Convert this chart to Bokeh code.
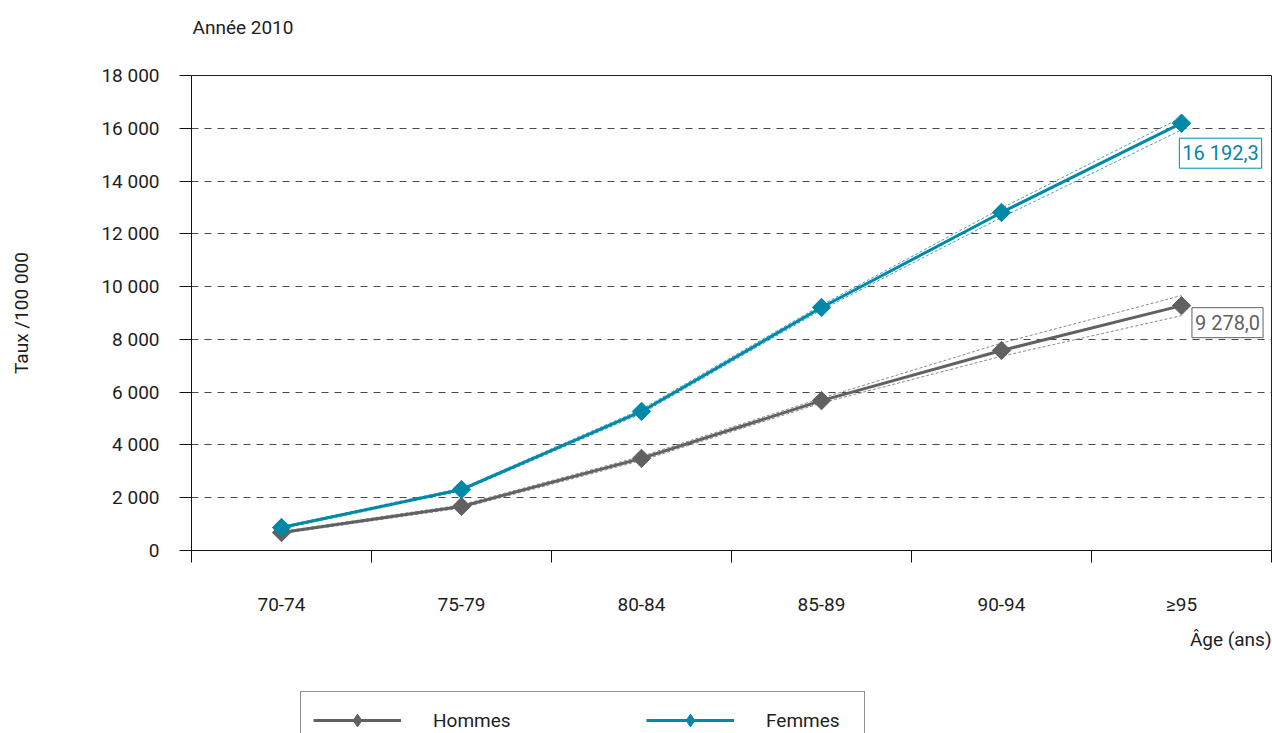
import math

from bokeh.plotting import figure
from bokeh.layouts import column
from bokeh.models import (Range1d, FixedTicker, CustomJSTickFormatter, Label,
                          Legend, LegendItem, Title)
from bokeh.embed import file_html
from bokeh.resources import INLINE

# Age groups and incidence rates per 100 000 (year 2010)
categories = ["70-74", "75-79", "80-84", "85-89", "90-94", "≥95"]
hommes = [680, 1670, 3490, 5680, 7580, 9278.0]
hommes_low = [640, 1610, 3410, 5590, 7360, 8900]
hommes_high = [720, 1730, 3570, 5770, 7860, 9660]
femmes = [870, 2310, 5270, 9210, 12810, 16192.3]
femmes_low = [830, 2260, 5190, 9120, 12620, 15940]
femmes_high = [910, 2360, 5350, 9300, 12970, 16410]
y_ticks = list(range(0, 18001, 2000))

FONT = "Roboto"
FS = "19px"
TEAL = "#0088a8"
TEAL_LIGHT = "#3aa6c2"
GREY = "#616161"
GREY_LIGHT = "#8a8a8a"
TEXT = "#1e1e1e"

xs = list(range(1, len(categories) + 1))
x_range = Range1d(0.5, len(categories) + 0.5)


def strip(height, y_range):
    """Frameless band sharing the chart's horizontal extent."""
    s = figure(width=1272, height=height, output_backend="svg", toolbar_location=None,
               x_range=x_range, y_range=y_range,
               x_axis_location=None, y_axis_location=None,
               min_border_left=0, min_border_right=0, min_border_top=0, min_border_bottom=0)
    s.outline_line_color = None
    s.xgrid.visible = False
    s.ygrid.visible = False
    s.background_fill_color = "white"
    s.border_fill_color = "white"
    return s


# heading band
t = strip(50, Range1d(0, 1))
t.add_layout(Label(x=x_range.start, y=0.46, x_offset=1, text="Année 2010",
                   text_align="left", text_baseline="middle",
                   text_font=FONT, text_font_size=FS, text_color=TEXT))

p = figure(width=1272, height=641, output_backend="svg", toolbar_location=None,
           x_range=x_range, y_range=Range1d(y_ticks[0], y_ticks[-1]),
           min_border_left=191, min_border_right=1,
           min_border_top=25, min_border_bottom=141)
p.outline_line_color = "#222222"
p.outline_line_width = 1
p.background_fill_color = "white"
p.border_fill_color = "white"

# x axis: labels centred on each age group, tick marks between groups
xa = p.xaxis[0]
xa.ticker = FixedTicker(ticks=xs, minor_ticks=[i + 0.5 for i in range(len(categories) + 1)])
xa.major_label_overrides = {i: c for i, c in zip(xs, categories)}
xa.major_tick_in = 0
xa.major_tick_out = 0
xa.minor_tick_in = 0
xa.minor_tick_out = 12
xa.minor_tick_line_color = "#111111"
xa.axis_line_color = "#111111"
xa.major_label_standoff = 30
xa.major_label_text_font = FONT
xa.major_label_text_font_size = FS
xa.major_label_text_color = TEXT

# x axis title, right-aligned under the axis
p.add_layout(Title(text="Âge (ans)", align="right", text_font=FONT, text_font_size=FS,
                   text_font_style="normal", text_color=TEXT, standoff=15), "below")

# y axis with space as thousands separator
ya = p.yaxis[0]
ya.ticker = FixedTicker(ticks=y_ticks)
ya.formatter = CustomJSTickFormatter(
    code="return String(Math.round(tick)).replace(/\\B(?=(\\d{3})+(?!\\d))/g, ' ');")
ya.major_tick_in = 0
ya.major_tick_out = 12
ya.minor_tick_line_color = None
ya.axis_line_color = "#111111"
ya.major_tick_line_color = "#111111"
ya.major_label_standoff = 20
ya.major_label_text_font = FONT
ya.major_label_text_font_size = FS
ya.major_label_text_color = TEXT
ya.axis_label = "Taux /100 000"
ya.axis_label_standoff = 65
ya.axis_label_text_font = FONT
ya.axis_label_text_font_size = FS
ya.axis_label_text_font_style = "normal"
ya.axis_label_text_color = TEXT

p.xgrid.visible = False
p.ygrid.ticker = FixedTicker(ticks=y_ticks[1:-1])
p.ygrid.grid_line_color = "#4a4a4a"
p.ygrid.grid_line_dash = "7 6"
p.ygrid.grid_line_width = 1

# confidence bounds
for lo, hi, c in ((hommes_low, hommes_high, GREY_LIGHT), (femmes_low, femmes_high, TEAL_LIGHT)):
    p.line(xs, lo, line_color=c, line_width=1, line_dash="3 2")
    p.line(xs, hi, line_color=c, line_width=1, line_dash="3 2")

# main series
series = [("Hommes", hommes, GREY), ("Femmes", femmes, TEAL)]
for name, vals, c in series:
    p.line(xs, vals, line_color=c, line_width=3)
    p.scatter(xs, vals, marker="square", size=13, angle=math.pi / 4,
              fill_color=c, line_color=c)


def fr(v):
    return f"{v:,.1f}".replace(",", " ").replace(".", ",")


# value boxes on the last age group
for vals, c, dx, dy in ((femmes, TEAL, 39, -30), (hommes, GREY, 46, -17)):
    p.add_layout(Label(x=xs[-1], y=vals[-1], text=fr(vals[-1]), x_offset=dx, y_offset=dy,
                       text_align="center", text_baseline="middle",
                       text_font=FONT, text_font_size="20px", text_color=c,
                       border_line_color=c, border_line_width=1,
                       background_fill_color="white", padding=3))

# legend band under the chart (its renderers stay hidden, only the key is shown)
q = strip(42, p.y_range)
items = []
for name, vals, c in series:
    ln = q.line(xs, vals, line_color=c, line_width=3, visible=False)
    mk = q.scatter(xs, vals, marker="diamond", size=21, fill_color=c, line_color=c,
                   visible=False)
    items.append(LegendItem(label=name, renderers=[ln, mk]))

legend = Legend(items=items, orientation="horizontal", location=(109, -16), margin=0,
                padding=12, glyph_width=88, glyph_height=32, label_standoff=32,
                label_width=86, spacing=127,
                border_line_color="#222222", border_line_width=1,
                background_fill_color="white", background_fill_alpha=1,
                inactive_fill_alpha=0,
                label_text_font=FONT, label_text_font_size=FS,
                label_text_color=TEXT)
q.add_layout(legend, "center")

layout = column(t, p, q, spacing=0)
open("out.html", "w").write(file_html(layout, INLINE))
